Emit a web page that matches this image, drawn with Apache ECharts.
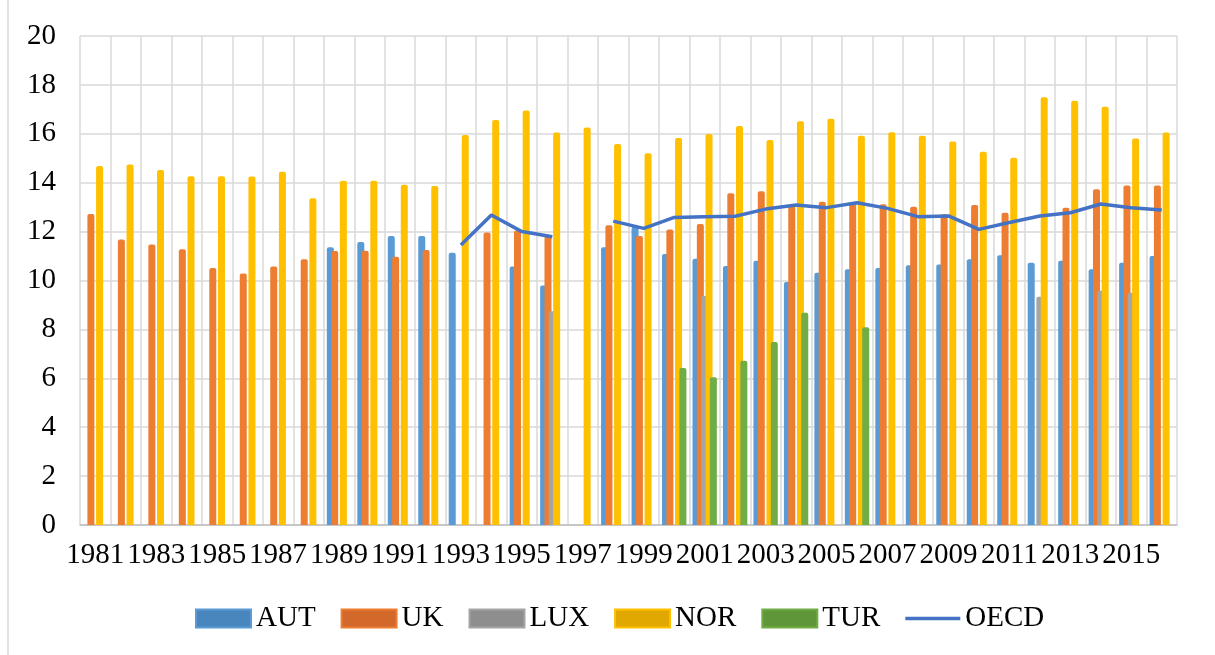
<!DOCTYPE html>
<html>
<head>
<meta charset="utf-8">
<script src="https://cdn.jsdelivr.net/npm/echarts@6/dist/echarts.min.js"></script>
<style>
  html, body { margin: 0; padding: 0; background: #fff; }
  #chart { width: 1215px; height: 655px; }
</style>
</head>
<body>
<div id="chart"></div>
<script>
// categories: 1981 - 2016
const years = [];
for (let y = 1981; y <= 2016; y++) years.push(String(y));

// values (null = no bar / gap)
const aut = [null, null, null, null, null, null, null, null, 11.36, 11.57,
  11.82, 11.82, 11.14, null, 10.57, 9.80, null, 11.36, 12.2, 11.08,
  10.89, 10.59, 10.81, 9.94, 10.32, 10.46, 10.51, 10.62, 10.65, 10.87,
  11.03, 10.73, 10.81, 10.46, 10.73, 11.0];
const uk = [12.72, 11.68, 11.47, 11.28, 10.51, 10.29, 10.57, 10.87, 11.21, 11.22,
  10.97, 11.25, null, 11.96, 12.04, 11.82, null, 12.26, 11.82, 12.09,
  12.31, 13.57, 13.65, 13.09, 13.22, 13.18, 13.12, 13.02, 12.71, 13.09,
  12.77, null, 12.98, 13.73, 13.89, 13.89];
const lux = [null, null, null, null, null, null, null, null, null, null,
  null, null, null, null, null, 8.74, null, null, null, null,
  9.37, null, null, null, null, null, null, null, null, null,
  null, 9.34, null, 9.58, 9.50, null];
const nor = [14.68, 14.74, 14.52, 14.26, 14.26, 14.25, 14.45, 13.36, 14.08, 14.08,
  13.92, 13.87, 15.95, 16.56, 16.95, 16.05, 16.26, 15.58, 15.2, 15.83,
  15.99, 16.32, 15.75, 16.51, 16.62, 15.92, 16.06, 15.92, 15.69, 15.27,
  15.02, 17.49, 17.35, 17.11, 15.81, 16.05];
const tur = [null, null, null, null, null, null, null, null, null, null,
  null, null, null, null, null, null, null, null, null, 6.42,
  6.04, 6.72, 7.48, 8.68, null, 8.09, null, null, null, null,
  null, null, null, null, null, null];
const oecd = [null, null, null, null, null, null, null, null, null, null,
  null, null, 11.45, 12.68, 12.0, 11.79, null, 12.43, 12.13, 12.58,
  12.61, 12.63, 12.92, 13.09, 12.98, 13.18, 12.95, 12.61, 12.64, 12.09,
  12.37, 12.64, 12.77, 13.13, 12.98, 12.88];

const colors = ['#5B9BD5', '#ED7D31', '#A5A5A5', '#FFC000', '#70AD47', '#4472C4'];
const darker = ['#4A86BE', '#D2692A', '#8E8E8E', '#E0A800', '#5E9639'];
const font = "'Times New Roman', 'Liberation Serif', serif";

const chart = echarts.init(document.getElementById('chart'));

function barSeries(name, data) {
  return {
    name: name,
    type: 'bar',
    data: data,
    barWidth: 7,
    barGap: '-38%',
    itemStyle: { borderRadius: [2, 2, 0, 0] }
  };
}

const legendItems = ['AUT', 'UK', 'LUX', 'NOR', 'TUR'].map((n, i) => ({
  name: n,
  icon: 'rect',
  itemStyle: { color: darker[i], borderColor: colors[i], borderWidth: 2 }
}));
// plain line for the OECD key, no marker
legendItems.push({
  name: 'OECD',
  icon: 'path://M0,0H55V3.5H0Z',
  itemStyle: { color: colors[5] }
});

const option = {
  animation: false,
  color: colors,
  grid: { left: 80, right: 38, top: 36, bottom: 130 },
  legend: {
    left: 190,
    top: 599,
    itemWidth: 55,
    itemHeight: 18,
    itemGap: 25,
    textStyle: { fontFamily: font, fontSize: 29, color: '#000' },
    data: legendItems
  },
  xAxis: {
    type: 'category',
    data: years,
    axisTick: { show: false },
    axisLine: { lineStyle: { color: '#bfbfbf', width: 1.5 } },
    axisLabel: {
      interval: 1,
      margin: 16,
      fontFamily: font,
      fontSize: 29,
      color: '#000'
    },
    splitLine: {
      show: true,
      interval: 0,
      lineStyle: { color: '#d9d9d9', width: 1.5 }
    }
  },
  yAxis: {
    type: 'value',
    min: 0,
    max: 20,
    interval: 2,
    axisLine: { show: false },
    axisTick: { show: false },
    axisLabel: { margin: 24, fontFamily: font, fontSize: 29, color: '#000' },
    splitLine: { lineStyle: { color: '#d9d9d9', width: 1.5 } }
  },
  graphic: [{
    type: 'line',
    shape: { x1: 8, y1: 0, x2: 8, y2: 655 },
    style: { stroke: '#d9d9d9', lineWidth: 1.5 }
  }],
  series: [
    barSeries('AUT', aut),
    barSeries('UK', uk),
    barSeries('LUX', lux),
    barSeries('NOR', nor),
    barSeries('TUR', tur),
    {
      name: 'OECD',
      type: 'line',
      data: oecd,
      symbol: 'none',
      connectNulls: false,
      lineStyle: { width: 3.5, color: colors[5] },
      itemStyle: { color: colors[5] },
      z: 5
    }
  ]
};

chart.setOption(option);
window.addEventListener('resize', function () {
  chart.resize();
});
</script>
</body>
</html>
